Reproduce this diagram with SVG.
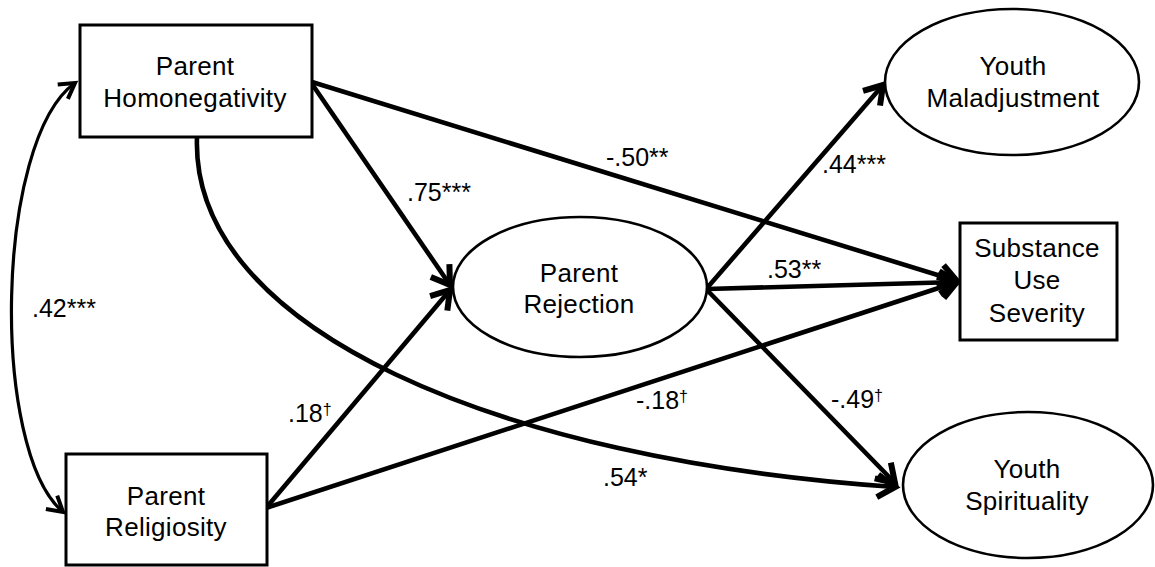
<svg xmlns="http://www.w3.org/2000/svg" width="1155" height="567" viewBox="0 0 1155 567">
<defs>
<style>
.box{fill:#fff;stroke:#000;stroke-width:3}
.ell{fill:#fff;stroke:#000;stroke-width:2.6}
.t{font-family:"Liberation Sans",Arial,sans-serif;font-size:26px;letter-spacing:0.3px;fill:#000;text-anchor:middle}
.lab{font-family:"Liberation Sans",Arial,sans-serif;font-size:25px;fill:#000}
.sup{font-size:16px}
.c{fill:none;stroke:#000;stroke-width:4.6;marker-end:url(#ah)}
.cc{fill:none;stroke:#000;stroke-width:3.2;marker-end:url(#ah2);marker-start:url(#ah2)}
</style>
<marker id="ah" markerUnits="userSpaceOnUse" markerWidth="30" markerHeight="30" viewBox="-16 -12 20 24" refX="0" refY="0" orient="auto">
<path d="M-14,-9 L0,0 L-14,9" fill="none" stroke="#000" stroke-width="4.8" stroke-linejoin="miter"/>
</marker>
<marker id="ah2" markerUnits="userSpaceOnUse" markerWidth="30" markerHeight="30" viewBox="-16 -12 20 24" refX="0" refY="0" orient="auto-start-reverse">
<path d="M-12,-7 L0,0 L-12,7" fill="none" stroke="#000" stroke-width="3.2"/>
</marker>
</defs>
<rect width="1155" height="567" fill="#fff"/>
<g id="connectors">
<path class="cc" d="M75,83 C-5,140 -10,450 63,512"/>
<path class="c" d="M312,84 L450,285"/>
<path class="c" d="M312,82 L957,281"/>
<path class="c" d="M197,137 C190,330 500,460 895,487"/>
<path class="c" d="M266,508 L450,290"/>
<path class="c" d="M266,508 L957,282"/>
<path class="c" d="M707,288 L883,85"/>
<path class="c" d="M707,289 L957,282"/>
<path class="c" d="M707,290 L895,483"/>
</g>
<g id="labels">
<text class="lab" x="407" y="201">.75***</text>
<text class="lab" x="606" y="166">-.50**</text>
<text class="lab" x="822" y="173">.44***</text>
<text class="lab" x="767" y="278">.53**</text>
<text class="lab" x="32" y="317">.42***</text>
<text class="lab" x="288" y="422">.18<tspan class="sup" dy="-7">†</tspan></text>
<text class="lab" x="636" y="409">-.18<tspan class="sup" dy="-7">†</tspan></text>
<text class="lab" x="603" y="486">.54*</text>
<text class="lab" x="831" y="408">-.49<tspan class="sup" dy="-7">†</tspan></text>
</g>
<g id="parent-homonegativity">
<rect class="box" x="80" y="25" width="232" height="112"/>
<text class="t" x="195" y="75">Parent</text>
<text class="t" x="195" y="107">Homonegativity</text>
</g>
<g id="parent-religiosity">
<rect class="box" x="66" y="454" width="201" height="111"/>
<text class="t" x="166" y="505">Parent</text>
<text class="t" x="166" y="536">Religiosity</text>
</g>
<g id="parent-rejection">
<ellipse class="ell" cx="580" cy="287" rx="127" ry="70"/>
<text class="t" x="579" y="282">Parent</text>
<text class="t" x="579" y="313">Rejection</text>
</g>
<g id="youth-maladjustment">
<ellipse class="ell" cx="1012" cy="82" rx="127" ry="73"/>
<text class="t" x="1013" y="75">Youth</text>
<text class="t" x="1013" y="107">Maladjustment</text>
</g>
<g id="substance-use-severity">
<rect class="box" x="960" y="223" width="157" height="117"/>
<text class="t" x="1037" y="257">Substance</text>
<text class="t" x="1037" y="289">Use</text>
<text class="t" x="1037" y="322">Severity</text>
</g>
<g id="youth-spirituality">
<ellipse class="ell" cx="1028" cy="485" rx="125" ry="73"/>
<text class="t" x="1027" y="478">Youth</text>
<text class="t" x="1027" y="510">Spirituality</text>
</g>
</svg>
